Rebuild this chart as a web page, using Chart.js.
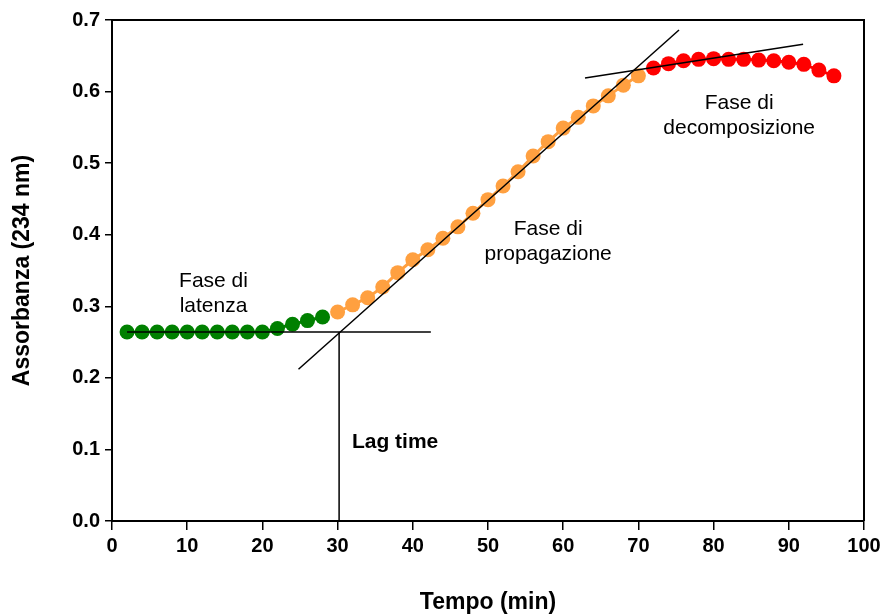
<!DOCTYPE html>
<html lang="it">
<head>
  <meta charset="UTF-8">
  <title>Assorbanza vs Tempo</title>
  <script src="https://cdn.jsdelivr.net/npm/chart.js"></script>
  <style>
    body { margin: 0; background: #fff; }
    #box { width: 885px; height: 616px; }
  </style>
</head>
<body>
<div id="box"><canvas id="grafico"></canvas></div>

<script>
// dati
const tempoLatenza = [2, 4, 6, 8, 10, 12, 14, 16, 18, 20, 22, 24, 26, 28];
const assLatenza = [0.264, 0.264, 0.264, 0.264, 0.264, 0.264, 0.264, 0.264, 0.264, 0.264, 0.269, 0.275, 0.280, 0.285];

const tempoPropagazione = [30, 32, 34, 36, 38, 40, 42, 44, 46, 48, 50, 52, 54, 56, 58, 60, 62, 64, 66, 68, 70];
const assPropagazione = [0.292, 0.302, 0.312, 0.327, 0.347, 0.365, 0.379, 0.395, 0.411, 0.430, 0.449,
  0.468, 0.488, 0.510, 0.530, 0.549, 0.564, 0.580, 0.594, 0.609, 0.622];

const tempoDecomposizione = [72, 74, 76, 78, 80, 82, 84, 86, 88, 90, 92, 94, 96];
const assDecomposizione = [0.633, 0.639, 0.643, 0.645, 0.646, 0.645, 0.645, 0.644, 0.643, 0.641, 0.638, 0.630, 0.622];

// rette di costruzione (lag time)
const baseX = [2, 42.4];
const baseY = [0.264, 0.264];
const lagX = [30.2, 30.2];
const lagY = [0.264, 0];
const tangenteX = [24.8, 75.4];
const tangenteY = [0.212, 0.686];
const plateauX = [62.9, 91.9];
const plateauY = [0.619, 0.666];

const FONT = '"Liberation Sans", Arial, sans-serif';

function punti(xs, ys) {
  return xs.map((x, i) => ({ x: x, y: ys[i] }));
}

function serie(xs, ys, colore) {
  return {
    data: punti(xs, ys),
    showLine: true,
    borderColor: colore,
    backgroundColor: colore,
    borderWidth: 3,
    pointRadius: 7.5,
    pointBorderWidth: 0,
    pointBackgroundColor: colore
  };
}

function retta(xs, ys) {
  return {
    data: punti(xs, ys),
    showLine: true,
    borderColor: '#000',
    borderWidth: 1.5,
    pointRadius: 0
  };
}

// scritte nel grafico, in coordinate dei dati
const scritte = [
  { testo: 'Fase di', x: 13.5, y: 0.327, bold: false, align: 'center' },
  { testo: 'latenza', x: 13.5, y: 0.292, bold: false, align: 'center' },
  { testo: 'Fase di', x: 58.0, y: 0.400, bold: false, align: 'center' },
  { testo: 'propagazione', x: 58.0, y: 0.365, bold: false, align: 'center' },
  { testo: 'Fase di', x: 83.4, y: 0.576, bold: false, align: 'center' },
  { testo: 'decomposizione', x: 83.4, y: 0.541, bold: false, align: 'center' },
  { testo: 'Lag time', x: 31.9, y: 0.102, bold: true, align: 'left' }
];

const pluginScritte = {
  id: 'scritte',
  afterDatasetsDraw(chart) {
    const ctx = chart.ctx;
    const sx = chart.scales.x, sy = chart.scales.y;
    ctx.save();
    ctx.fillStyle = '#000';
    ctx.textBaseline = 'alphabetic';
    scritte.forEach(s => {
      ctx.font = (s.bold ? 'bold ' : '') + '21px ' + FONT;
      ctx.textAlign = s.align;
      ctx.fillText(s.testo, sx.getPixelForValue(s.x), sy.getPixelForValue(s.y));
    });
    // cornice sopra e a destra
    const a = chart.chartArea;
    ctx.strokeStyle = '#000';
    ctx.lineWidth = 2;
    ctx.beginPath();
    ctx.moveTo(a.left, a.top);
    ctx.lineTo(a.right, a.top);
    ctx.lineTo(a.right, a.bottom);
    ctx.stroke();
    ctx.restore();
  }
};

new Chart(document.getElementById('grafico'), {
  type: 'scatter',
  data: {
    datasets: [
      retta(baseX, baseY),
      retta(lagX, lagY),
      retta(tangenteX, tangenteY),
      retta(plateauX, plateauY),
      serie(tempoLatenza, assLatenza, '#008000'),
      serie(tempoPropagazione, assPropagazione, '#FFA040'),
      serie(tempoDecomposizione, assDecomposizione, '#FF0000')
    ]
  },
  options: {
    responsive: true,
    maintainAspectRatio: false,
    animation: false,
    layout: { padding: { top: 20, right: 21, left: 0, bottom: 0 } },
    plugins: {
      legend: { display: false },
      tooltip: { enabled: false }
    },
    scales: {
      x: {
        type: 'linear',
        min: 0, max: 100,
        afterFit: s => { s.height = 95; },
        ticks: {
          stepSize: 10,
          color: '#000',
          padding: 4,
          font: { family: FONT, size: 20, weight: 'bold' }
        },
        grid: { drawOnChartArea: false, drawTicks: true, tickLength: 9, color: '#000', lineWidth: 1.5 },
        border: { display: true, color: '#000', width: 2 },
        title: {
          display: true,
          text: 'Tempo (min)',
          color: '#000',
          padding: { top: 0, bottom: 0 },
          font: { family: FONT, size: 23, weight: 'bold' }
        }
      },
      y: {
        type: 'linear',
        min: 0, max: 0.7,
        afterFit: s => { s.width = 112; },
        ticks: {
          stepSize: 0.1,
          color: '#000',
          padding: 5,
          font: { family: FONT, size: 20, weight: 'bold' },
          callback: v => v.toFixed(1)
        },
        grid: { drawOnChartArea: false, drawTicks: true, tickLength: 7, color: '#000', lineWidth: 1.5 },
        border: { display: true, color: '#000', width: 2 },
        title: {
          display: true,
          text: 'Assorbanza (234 nm)',
          color: '#000',
          padding: { top: 9, bottom: 0 },
          font: { family: FONT, size: 23, weight: 'bold' }
        }
      }
    }
  },
  plugins: [pluginScritte]
});
</script>
</body>
</html>
